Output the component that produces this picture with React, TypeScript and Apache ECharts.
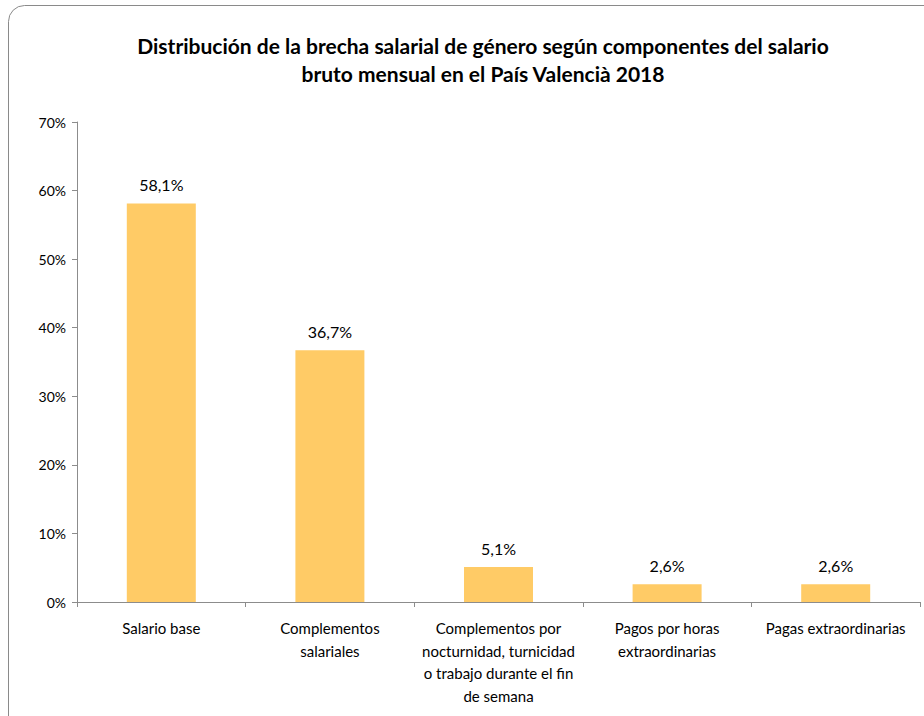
import React, { useEffect, useRef } from "react";
import * as echarts from "echarts";

const titleLines = [
  "Distribución de la brecha salarial de género según componentes del salario",
  "bruto mensual en el País Valencià 2018",
];
const categories = [
  "Salario base",
  "Complementos\nsalariales",
  "Complementos por\nnocturnidad, turnicidad\no trabajo durante el fin\nde semana",
  "Pagos por horas\nextraordinarias",
  "Pagas extraordinarias",
];
const values = [58.1, 36.7, 5.1, 2.6, 2.6];
const yTicks = [0, 10, 20, 30, 40, 50, 60, 70];

const FONT = "Lato, 'Open Sans', sans-serif";

export default function App() {
  const ref = useRef<HTMLDivElement>(null);
  useEffect(() => {
    const chart = echarts.init(ref.current!, null, { renderer: "svg" });
    chart.setOption({
      animation: false,
      backgroundColor: "#ffffff",
      textStyle: { fontFamily: FONT },
      title: {
        text: titleLines.join("\n"),
        left: 478,
        top: 26,
        textAlign: "center",
        textStyle: {
          fontFamily: FONT,
          fontSize: 21,
          fontWeight: "bold",
          color: "#000000",
          lineHeight: 28,
        },
      },
      graphic: [
        {
          type: "rect",
          shape: { x: 8.5, y: 5.5, width: 960, height: 760, r: 16 },
          style: { fill: "none", stroke: "#8a8a8a", lineWidth: 1 },
          silent: true,
        },
      ],
      grid: { left: 77, right: 4, top: 122, bottom: 114, containLabel: false },
      xAxis: {
        type: "category",
        data: categories,
        axisLine: { lineStyle: { color: "#8c8c8c", width: 1 } },
        axisTick: { show: true, length: 5, alignWithLabel: false, lineStyle: { color: "#8c8c8c" } },
        axisLabel: {
          interval: 0,
          margin: 15,
          color: "#000000",
          fontFamily: FONT,
          fontSize: 15,
          lineHeight: 22.5,
        },
      },
      yAxis: {
        type: "value",
        min: 0,
        max: 70,
        interval: 10,
        splitLine: { show: false },
        axisLine: { show: true, lineStyle: { color: "#8c8c8c", width: 1 } },
        axisTick: { show: true, length: 5, lineStyle: { color: "#8c8c8c" } },
        axisLabel: {
          margin: 11,
          color: "#000000",
          fontFamily: FONT,
          fontSize: 14,
          formatter: (v: number) => (yTicks.includes(v) ? `${v}%` : ""),
        },
      },
      series: [
        {
          type: "bar",
          data: values,
          barWidth: 69,
          itemStyle: { color: "#FFCB66" },
          label: {
            show: true,
            position: "top",
            distance: 11,
            color: "#000000",
            fontFamily: FONT,
            fontSize: 16,
            formatter: (p: any) => `${p.value.toFixed(1).replace(".", ",")}%`,
          },
        },
      ],
    });
    return () => chart.dispose();
  }, []);
  return (
    <div
      ref={ref}
      style={{ position: "fixed", left: 0, top: 0, width: 924, height: 716 }}
    />
  );
}
